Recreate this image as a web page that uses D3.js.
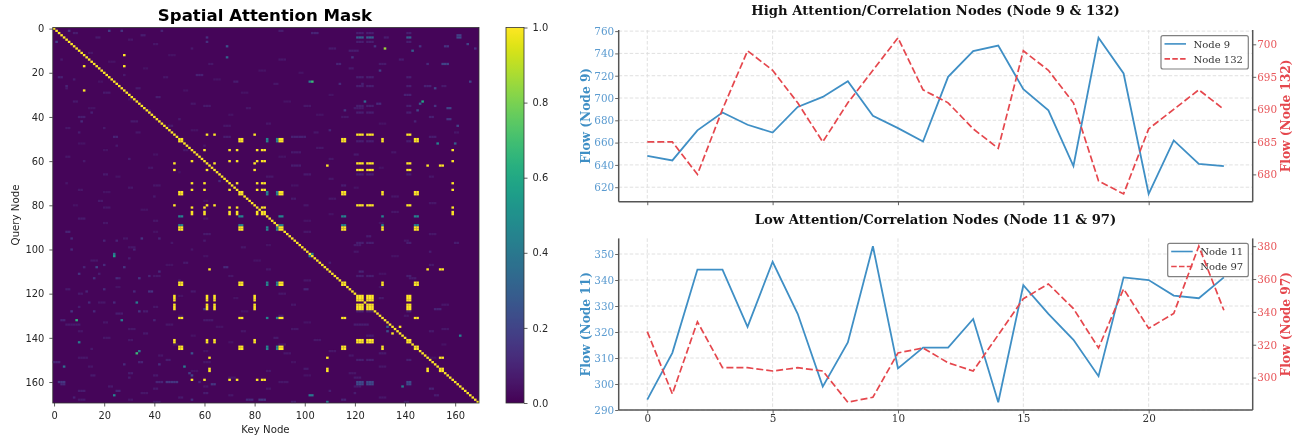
<!DOCTYPE html>
<html><head><meta charset="utf-8">
<style>html,body{margin:0;padding:0;background:#fff}svg{display:block;filter:blur(0.35px)}</style>
<script src="https://cdn.jsdelivr.net/npm/d3@7/dist/d3.min.js"></script></head>
<body><svg id="c" width="1302" height="439"></svg>
<script>
// ---------- DATA ----------
const nodeCount = 170;
const baseLevel = 0.014;
const groupA = [50,51,74,75,90,91,115,116,131,144,145];
const groupB = [48,61,64,80,121,122,123,125,126,127,141,142];
const groupC = [55,60,70,73,81,83,84,159];
const groupD = [62,109,149,154,155];
const tealIndex = [85,89];
const tealCols = [50,51,74,75,90,91,115,116,131,144,145];
const mutedCols = [121,122,123,125,126,127,141,142];
const mutedRowsStrong = [4];
const mutedRowsMid = [160,161];
const mutedRowsDim = [2,6,22,26,35,38,51,66,97,112,128,150];
// isolated strong cells: [row, col, value]
const strongCells = [[12,28,1],[17,28,1],[17,12,1],[28,12,1],[135,138,1],[138,135,1],
 [24,103,.68],[24,102,.42],[103,24,.55],[102,24,.4],[9,132,.85],[132,9,.65],[33,147,.6],[34,146,.28],
 [147,33,.68],[146,34,.4],[132,27,.42],[124,33,.42],[33,124,.34],[142,10,.42],[153,4,.36],[153,52,.42],[166,24,.45],
 [147,55,.25],[52,153,.45],[52,160,.3],[139,162,.45],[162,139,.42],[166,102,.4],[166,103,.4],[169,109,.42],
 [157,55,.2],[156,54,.18],[102,103,.45],[103,102,.45],[137,133,.25],[135,133,.3],[8,69,.25],[13,69,.32],[10,143,.3]];
// faint background cells: [row, firstCol, length, value]
const faintCells = [[1,6,1,.16],[1,22,1,.18],[1,27,1,.15],[1,43,1,.1],[3,35,2,.08],[4,61,1,.14],[6,61,1,.14],[6,1,1,.18],[2,8,2,.08],[4,17,2,.07],
 [1,90,2,.08],[2,103,3,.1],[4,132,2,.08],[7,165,1,.2],[4,161,2,.22],[3,161,2,.18],[8,128,1,.15],[8,146,1,.15],[8,156,2,.15],[9,168,1,.14],[9,110,3,.07],[10,118,4,.08],[14,90,3,.06],
 [13,119,1,.15],[14,138,2,.08],[16,130,3,.07],[16,113,2,.1],[16,149,1,.12],[16,155,3,.2],[18,118,2,.07],[19,130,1,.18],[21,57,3,.09],[24,72,2,.08],[25,114,1,.12],[24,166,1,.2],[27,152,1,.2],[21,28,1,.07],[22,2,2,.09],[23,8,1,.08],[26,5,1,.1],
 [26,155,2,.07],[27,33,2,.07],[29,20,3,.07],[31,41,2,.08],[33,8,2,.07],[34,129,2,.12],[35,60,3,.07],[35,152,1,.15],[36,77,2,.06],[36,157,2,.2],[37,116,1,.15],[37,145,1,.2],[41,157,2,.15],[44,161,1,.2],[30,140,3,.09],[25,123,1,.09],[26,148,3,.09],
 [38,15,1,.09],[40,10,3,.08],[42,11,1,.12],[42,31,3,.07],[44,46,2,.07],[45,20,1,.07],[44,68,3,.06],[35,100,3,.06],[36,120,4,.07],[40,150,2,.09],
 [40,115,3,.06],[47,104,2,.06],[47,160,2,.06],[42,144,1,.1],[47,10,1,.08],[49,24,2,.1],[49,68,3,.08],[49,95,6,.09],[49,150,3,.08],[46,110,1,.1],
 [53,25,1,.07],[55,52,2,.07],[56,95,4,.07],[57,120,2,.07],[58,5,2,.06],[59,30,1,.08],[63,38,2,.06],[66,20,2,.07],[66,100,3,.07],[67,150,2,.06],
 [69,66,1,.12],[71,40,3,.06],[72,30,2,.06],[73,10,2,.06],[71,115,2,.08],[76,135,3,.06],[77,95,2,.07],[78,18,2,.07],[82,60,1,.08],[81,20,3,.06],
 [86,10,3,.07],[87,40,2,.06],[92,5,2,.1],[93,60,3,.07],[94,125,2,.08],[95,7,1,.12],[95,35,1,.15],[95,42,1,.1],[96,20,1,.1],[96,25,1,.1],[100,7,1,.12],[100,32,1,.1],[95,28,2,.06],[97,47,1,.06],[98,120,3,.07],[99,75,2,.06],[97,160,2,.08],
 [105,15,3,.06],[106,52,2,.07],[107,150,2,.07],[108,68,2,.12],[108,12,1,.1],[108,17,1,.2],[107,20,1,.12],[108,28,1,.15],[110,42,1,.12],[111,10,1,.15],[112,38,1,.1],[113,16,1,.14],[113,25,1,.12],[113,34,1,.15],[110,122,2,.1],[111,18,1,.08],[112,40,3,.06],[113,142,3,.07],[113,26,1,.09],[118,5,2,.07],
 [118,20,1,.12],[119,32,1,.12],[119,38,2,.15],[119,13,1,.1],[118,100,2,.1],[119,55,2,.07],[122,130,2,.07],[124,18,3,.06],[124,14,1,.12],[124,24,1,.12],[126,40,2,.06],[127,60,2,.18],[128,36,2,.08],[127,152,3,.1],[128,7,1,.15],[128,16,1,.12],[128,34,1,.15],[129,25,3,.08],[130,90,2,.07],
 [132,3,2,.1],[132,40,1,.1],[132,60,4,.07],[134,5,6,.07],[134,45,3,.06],[134,120,6,.08],[136,30,3,.06],[137,75,2,.06],[137,150,2,.07],[138,36,2,.07],
 [140,20,3,.06],[140,88,2,.07],[141,104,3,.06],[143,48,2,.06],[146,110,3,.06],[147,130,3,.07],[149,10,4,.06],[150,45,2,.08],[151,0,3,.1],[151,34,2,.1],
 [152,42,1,.14],[152,28,1,.12],[154,100,2,.07],[156,30,2,.08],[157,40,2,.07],[158,120,3,.07],[160,2,3,.16],[160,41,3,.1],[160,45,5,.16],[160,58,1,.1],
 [161,63,2,.16],[161,3,2,.12],[162,22,2,.07],[163,150,2,.1],[164,10,3,.08],[164,25,2,.1],[165,120,1,.08],[166,152,2,.08],[168,77,3,.12],[168,82,3,.16],
 [168,55,1,.14],[167,8,1,.09],[165,60,2,.08],[168,30,2,.06],[168,115,2,.1],
 [5,30,2,.06],[7,40,2,.06],[9,55,1,.07],[11,14,2,.06],[12,46,3,.05],[14,3,1,.07],[15,22,3,.05],[16,62,2,.06],[18,36,2,.05],[19,82,3,.05],[20,98,2,.05],[22,44,2,.06],[23,64,3,.05],[24,18,2,.05],[25,88,2,.06],
 [27,5,1,.07],[28,52,2,.05],[29,75,3,.05],[30,110,2,.05],[32,30,2,.05],[33,92,3,.05],[34,55,2,.06],[36,14,3,.05],[37,38,1,.07],[39,70,2,.05],[39,105,3,.05],[41,50,1,.07],[43,85,2,.06],[43,130,3,.05],[45,5,2,.06],[46,55,3,.05],[47,33,2,.06],
 [52,10,3,.05],[53,60,1,.06],[54,105,3,.06],[55,20,2,.05],[56,135,2,.06],[57,40,2,.05],[58,90,3,.05],[59,110,2,.06],[60,12,1,.07],[62,95,4,.08],[63,130,2,.05],[65,50,1,.05],[67,25,2,.05],[67,85,3,.06],[68,110,2,.06],[70,5,1,.06],[71,95,3,.05],[72,120,2,.05],[74,20,3,.05],[76,40,1,.07],[77,110,3,.06],[78,60,2,.05],[79,150,3,.06],[80,8,2,.05],[80,100,2,.06],[82,35,3,.05],[83,135,3,.06],[84,110,2,.05],
 [86,60,2,.06],[87,100,3,.05],[88,20,2,.06],[88,130,2,.05],[92,40,2,.05],[92,100,3,.06],[93,150,3,.06],[96,60,1,.07],[96,140,2,.06],[98,85,2,.05],[99,30,3,.06],[100,55,1,.06],[101,120,2,.06],[101,150,1,.08],[103,60,2,.05],[103,135,3,.05],[104,30,1,.08],[105,80,3,.05],[106,110,1,.08],[107,45,3,.05],[109,85,2,.06],[111,130,3,.05],[112,70,2,.06],[114,50,1,.07],[114,100,3,.06],[117,25,2,.05],[117,130,2,.05],[120,90,3,.06],[120,10,2,.07],[121,50,2,.05],[122,72,2,.05],[125,95,2,.06],[125,155,3,.06],[126,10,1,.08],[128,75,3,.05],[130,50,2,.05],[130,140,2,.06],[133,100,3,.05],[133,20,2,.06],[135,65,3,.05],[136,95,3,.06],[136,155,3,.06],[137,10,2,.06],[139,55,2,.05],[139,125,3,.07],[141,30,2,.06],[142,70,2,.05],[143,90,3,.06],[143,155,2,.05],[145,15,1,.07],[146,60,2,.05],[147,92,3,.06],[148,42,2,.06],[148,118,2,.06],[149,150,3,.05],[151,60,3,.06],[151,95,2,.05],[153,14,2,.06],[153,130,3,.06],[155,55,3,.05],[155,85,2,.06],[156,118,3,.06],[157,15,2,.07],[157,100,3,.05],[158,30,1,.08],[158,70,3,.06],[160,90,4,.06],[162,60,2,.06],[162,120,3,.07],[163,40,2,.07],[163,85,2,.06],[164,110,1,.08],[165,35,3,.06],[166,70,2,.06],[167,130,3,.06],[167,50,2,.07],[168,10,3,.07],[169,40,3,.07],[169,95,2,.08],[169,140,2,.07]];
const cbarTicks = [0,0.2,0.4,0.6,0.8,1.0];
const matrixTicks = [0,20,40,60,80,100,120,140,160];
const steps = d3.range(24);
const node9 = [648,644,671,687,676,669,692,701,715,684,673,661,719,742,747,708,689,639,754,722,614,662,641,639];
const node132 = [685,685,680,690,699,696,691,685,691,696,701,693,691,687,684,699,696,691,679,677,687,690,693,690];
const node11 = [294,312,344,344,322,347,327,299,316,353,306,314,314,325,293,338,327,317,303,341,340,334,333,341];
const node97 = [328,290,334,306,306,304,306,304,285,288,315,318,309,304,326,348,357,342,318,354,330,339,380,341];

// ---------- MATRIX ----------
const m = new Map();
const put = (r,c,v)=>{const k=r*1000+c; m.set(k,Math.max(v,m.get(k)||0));};
const cross=(rs,cs,v)=>rs.forEach(r=>cs.forEach(c=>put(r,c,v)));
faintCells.forEach(([r,c,l,v])=>d3.range(l).forEach(i=>put(r,c+i,v)));
cross(mutedRowsDim,mutedCols,.085);
cross(mutedRowsStrong,mutedCols,.3);
cross(mutedRowsMid,mutedCols,.22);
tealIndex.forEach(t=>{tealCols.forEach(a=>{put(t,a,.45);put(a,t,.45);});});
[groupA,groupB,groupC,groupD].forEach(g=>cross(g,g,1));
strongCells.forEach(([r,c,v])=>put(r,c,v));
d3.range(nodeCount).forEach(i=>put(i,i,1));
const cells=[...m].map(([k,v])=>({r:Math.floor(k/1000),c:k%1000,v}));

// ---------- DRAW ----------
const svg=d3.select('#c');
const sans='"DejaVu Sans"', serif='"DejaVu Serif"';
const ink='#262626';
const color=v=>d3.interpolateViridis(v);

// heatmap
const hm={l:52.8,r:479,t:27.5,b:403};
const hx=d3.scaleLinear().domain([-0.5,nodeCount-0.5]).range([hm.l,hm.r]);
const hy=d3.scaleLinear().domain([-0.5,nodeCount-0.5]).range([hm.t,hm.b]);
const H=svg.append('g');
H.append('rect').attr('x',hm.l).attr('y',hm.t).attr('width',hm.r-hm.l).attr('height',hm.b-hm.t).attr('fill',color(baseLevel));
H.selectAll('rect.cell').data(cells).join('rect').attr('class','cell')
 .attr('x',d=>hx(d.c-.5)).attr('y',d=>hy(d.r-.5))
 .attr('width',hx(1)-hx(0)+.05).attr('height',hy(1)-hy(0)+.05).attr('fill',d=>color(d.v));
function styleAxis(g,col,fam,size){
 g.selectAll('text').attr('fill',col).attr('font-family',fam).attr('font-size',size);
}
const axB=svg.append('g').attr('transform',`translate(0,${hm.b})`).call(d3.axisBottom(hx).tickValues(matrixTicks).tickSize(3.5).tickPadding(5));
const axL=svg.append('g').attr('transform',`translate(${hm.l},0)`).call(d3.axisLeft(hy).tickValues(matrixTicks).tickSize(3.5).tickPadding(5));
[axB,axL].forEach(a=>{styleAxis(a,ink,sans,9.9);a.selectAll('line').attr('stroke','#333').attr('stroke-width',.8);a.select('.domain').remove();});
svg.append('rect').attr('x',hm.l).attr('y',hm.t).attr('width',hm.r-hm.l).attr('height',hm.b-hm.t).attr('fill','none').attr('stroke','#333').attr('stroke-width',.8);
svg.append('text').attr('x',265).attr('y',20.5).attr('text-anchor','middle').attr('font-family',sans).attr('font-weight','bold').attr('font-size',16.6).attr('fill','#000').text('Spatial Attention Mask');
svg.append('text').attr('x',265.5).attr('y',433).attr('text-anchor','middle').attr('font-family',sans).attr('font-size',10.2).attr('fill',ink).text('Key Node');
svg.append('text').attr('transform',`translate(18.5,215) rotate(-90)`).attr('text-anchor','middle').attr('font-family',sans).attr('font-size',10.2).attr('fill',ink).text('Query Node');

// colorbar
const cb={l:506,r:524,t:27.5,b:403};
const cy=d3.scaleLinear().domain([0,1]).range([cb.b,cb.t]);
const levels=d3.range(0,256).map(i=>i/255);
const grad=svg.append('defs').append('linearGradient').attr('id','vir').attr('x1',0).attr('x2',0).attr('y1',1).attr('y2',0);
grad.selectAll('stop').data(levels).join('stop').attr('offset',d=>d).attr('stop-color',d=>color(d));
svg.append('rect').attr('x',cb.l).attr('y',cb.t).attr('width',cb.r-cb.l).attr('height',cb.b-cb.t).attr('fill','url(#vir)');
const axC=svg.append('g').attr('transform',`translate(${cb.r},0)`).call(d3.axisRight(cy).tickValues(cbarTicks).tickFormat(d3.format('.1f')).tickSize(3.5).tickPadding(5));
styleAxis(axC,ink,sans,9.9);axC.selectAll('line').attr('stroke','#333').attr('stroke-width',.8);axC.select('.domain').remove();
svg.append('rect').attr('x',cb.l).attr('y',cb.t).attr('width',cb.r-cb.l).attr('height',cb.b-cb.t).attr('fill','none').attr('stroke','#333').attr('stroke-width',.8);

// line panels
const blue='#3f8fc5', red='#e5474d', blueText='#5b9bd0', redText='#e8575b', spine='#555';
const px=d3.scaleLinear().domain([-1.14,24.15]).range([618.7,1252.7]);
function panel(o){
 const yL=d3.scaleLinear().domain(o.dl).range([o.b,o.t]);
 const yR=d3.scaleLinear().domain(o.dr).range([o.b,o.t]);
 const g=svg.append('g');
 g.append('g').selectAll('line').data(o.tl).join('line').attr('x1',px.range()[0]).attr('x2',px.range()[1]).attr('y1',d=>yL(d)).attr('y2',d=>yL(d))
  .attr('stroke','#dcdcdc').attr('stroke-width',.9).attr('stroke-dasharray','3.5,2');
 g.append('g').selectAll('line').data(o.tx).join('line').attr('y1',o.t).attr('y2',o.b).attr('x1',d=>px(d)).attr('x2',d=>px(d))
  .attr('stroke','#dcdcdc').attr('stroke-width',.9).attr('stroke-dasharray','3.5,2');
 const line=y=>d3.line().x((d,i)=>px(steps[i])).y(d=>y(d));
 g.append('path').datum(o.a).attr('d',line(yL)).attr('fill','none').attr('stroke',blue).attr('stroke-width',1.8);
 // legend sits between the two series
 const L=o.leg;
 g.append('rect').attr('x',L.x).attr('y',L.y).attr('width',L.w).attr('height',L.h).attr('rx',2).attr('fill','#fff').attr('fill-opacity',.85).attr('stroke','#808080').attr('stroke-width',1.2);
 [[o.na,blue,null],[o.nb,red,'5.5,2.3']].forEach(([n,c,da],i)=>{
  const yy=L.y+8.2+i*15;
  g.append('line').attr('x1',L.x+3.5).attr('x2',L.x+25).attr('y1',yy).attr('y2',yy).attr('stroke',c).attr('stroke-width',1.6).attr('stroke-dasharray',da);
  g.append('text').attr('x',L.x+32.5).attr('y',yy+3.6).attr('font-family',serif).attr('font-size',10).attr('fill','#333').text(n);
 });
 g.append('path').datum(o.b2).attr('d',line(yR)).attr('fill','none').attr('stroke',red).attr('stroke-width',1.7).attr('stroke-dasharray','7,3');
 const aB=g.append('g').attr('transform',`translate(0,${o.b})`).call(d3.axisBottom(px).tickValues(o.tx).tickFormat(o.xlab?d3.format('d'):'').tickSize(3.5).tickPadding(1.5));
 styleAxis(aB,'#333',serif,10.4);
 const aL=g.append('g').attr('transform',`translate(${px.range()[0]},0)`).call(d3.axisLeft(yL).tickValues(o.tl).tickSize(3.5).tickPadding(1));
 styleAxis(aL,blueText,serif,10.4);
 const aR=g.append('g').attr('transform',`translate(${px.range()[1]},0)`).call(d3.axisRight(yR).tickValues(o.tr).tickSize(3.5).tickPadding(1));
 styleAxis(aR,redText,serif,10.4);
 [aB,aL,aR].forEach(a=>{a.selectAll('line').attr('stroke',spine).attr('stroke-width',.9);a.selectAll('.domain').attr('stroke',spine).attr('stroke-width',1.5).attr('d',a===aB?`M${px.range()[0]},0H${px.range()[1]}`:`M0,${o.t}V${o.b}`);});
 g.append('text').attr('x',o.tcx).attr('y',o.ty).attr('text-anchor','middle').attr('font-family',serif).attr('font-weight','bold').attr('font-size',13.2).attr('fill','#111').text(o.title);
 g.append('text').attr('transform',`translate(590,${(o.t+o.b)/2}) rotate(-90)`).attr('text-anchor','middle').attr('font-family',serif).attr('font-weight','bold').attr('font-size',12.2).attr('fill',blue).text('Flow ('+o.na+')');
 g.append('text').attr('transform',`translate(1290,${(o.t+o.b)/2}) rotate(-90)`).attr('text-anchor','middle').attr('font-family',serif).attr('font-weight','bold').attr('font-size',12.2).attr('fill',red).text('Flow ('+o.nb+')');
}
panel({t:30,b:201.7,dl:[607,761],dr:[675.8,702.2],a:node9,b2:node132,na:'Node 9',nb:'Node 132',
 tl:[620,640,660,680,700,720,740,760],tr:[680,685,690,695,700],tx:[0,5,10,15,20],xlab:false,
 title:'High Attention/Correlation Nodes (Node 9 & 132)',tcx:935.5,ty:15,leg:{x:1161,y:35.7,w:87.3,h:33.3}});
panel({t:238.4,b:410,dl:[290,356],dr:[280.25,384.75],a:node11,b2:node97,na:'Node 11',nb:'Node 97',
 tl:[290,300,310,320,330,340,350],tr:[300,320,340,360,380],tx:[0,5,10,15,20],xlab:true,
 title:'Low Attention/Correlation Nodes (Node 11 & 97)',tcx:935.5,ty:223.5,leg:{x:1167.7,y:243.3,w:80.6,h:33.4}});
</script></body></html>
